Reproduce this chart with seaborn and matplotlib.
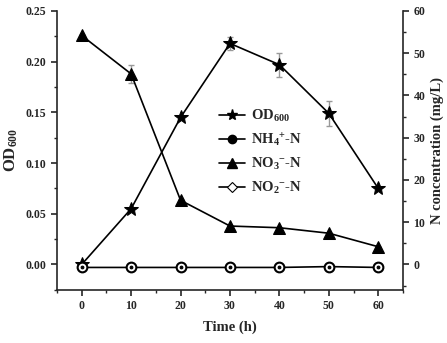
import numpy as np
import matplotlib
matplotlib.use('Agg')
import matplotlib.pyplot as plt
from matplotlib.lines import Line2D
from matplotlib.ticker import MultipleLocator
import seaborn as sns

#data
time = [0, 10, 20, 30, 40, 50, 60]
od600 = [0.0, 0.055, 0.145, 0.218, 0.197, 0.149, 0.075]
od600_err = [0, 0, 0, 0.006, 0.012, 0.012, 0]
nh4 = [-0.7, -0.7, -0.7, -0.7, -0.7, -0.5, -0.7]
no3 = [54.2, 45.1, 15.2, 9.1, 8.7, 7.4, 4.2]
no3_err = [0, 2.2, 0, 0, 0, 0, 0]
no2 = [-0.7, -0.7, -0.7, -0.7, -0.7, -0.5, -0.7]

#style
sns.set_style('ticks')
plt.rcParams['font.family'] = ['Liberation Serif', 'DejaVu Serif']
plt.rcParams['font.weight'] = 'bold'
plt.rcParams['mathtext.fontset'] = 'custom'
plt.rcParams['mathtext.rm'] = 'Liberation Serif:bold'
plt.rcParams['mathtext.default'] = 'rm'

fig = plt.figure(figsize=(4.47, 3.43), dpi=100)
ax = fig.add_axes([0.1275, 0.155, 0.774, 0.813])
ax2 = ax.twinx()

#left axis: OD600
ax.errorbar(time, od600, yerr=od600_err, fmt='none', ecolor='#999999',
            elinewidth=1, capsize=2.5, capthick=1, zorder=1)
sns.lineplot(x=time, y=od600, ax=ax, color='black', marker='*',
             markersize=10, markeredgecolor='black', linewidth=1.2, zorder=3)

#right axis: nitrogen
ax2.errorbar(time, no3, yerr=no3_err, fmt='none', ecolor='#999999',
             elinewidth=1, capsize=2.5, capthick=1, zorder=1)
sns.lineplot(x=time, y=no3, ax=ax2, color='black', marker='^',
             markersize=9, markeredgecolor='black', linewidth=1.2, zorder=3)
sns.lineplot(x=time, y=nh4, ax=ax2, color='black', marker='o',
             markersize=7, markerfacecolor='white', markeredgecolor='black',
             markeredgewidth=1.5, linewidth=1.2, zorder=3)
sns.lineplot(x=time, y=no2, ax=ax2, color='black', marker='o',
             markersize=2, markerfacecolor='black', markeredgecolor='black',
             linewidth=0, zorder=4)

#axes limits and ticks
ax.set_xlim(-5, 65)
ax.set_ylim(-0.025, 0.25)
ax2.set_ylim(-6, 60)
ax.set_xticks(time)
ax.xaxis.set_minor_locator(MultipleLocator(5))
ax.yaxis.set_major_locator(MultipleLocator(0.05))
ax.yaxis.set_minor_locator(MultipleLocator(0.025))
ax.yaxis.set_major_formatter(matplotlib.ticker.FormatStrFormatter('%.2f'))
ax2.yaxis.set_major_locator(MultipleLocator(10))
ax2.yaxis.set_minor_locator(MultipleLocator(5))

for a in (ax, ax2):
    a.spines['top'].set_visible(False)
    for s in a.spines.values():
        s.set_linewidth(1.2)
    a.tick_params(which='major', length=4, width=1.2, labelsize=8.5, direction='out')
    a.tick_params(which='minor', length=2.5, width=1, direction='out')
ax2.spines['left'].set_visible(False)
ax.spines['right'].set_visible(False)
ax2.spines['right'].set_visible(True)
ax2.spines['bottom'].set_visible(False)

ax.set_xlabel('Time (h)', fontsize=10.5, fontweight='bold', labelpad=6)
ax.set_ylabel('OD$_{600}$', fontsize=12, fontweight='bold', labelpad=4)
ax2.set_ylabel('N concentration (mg/L)', fontsize=10.5, fontweight='bold', labelpad=4)

#legend
handles = [
    Line2D([], [], color='black', marker='*', markersize=8, linewidth=1.2),
    Line2D([], [], color='black', marker='o', markersize=6, linewidth=1.2),
    Line2D([], [], color='black', marker='^', markersize=7, linewidth=1.2),
    Line2D([], [], color='black', marker='D', markersize=5, markerfacecolor='white',
           markeredgewidth=0.8, linewidth=1.2),
]
labels = ['OD$_{600}$', 'NH$_4$$^{+}$-N', 'NO$_3$$^{-}$-N', 'NO$_2$$^{-}$-N']
ax.legend(handles, labels, loc='upper left', bbox_to_anchor=(0.45, 0.672),
          frameon=False, fontsize=10.5, handlelength=1.8, handletextpad=0.4,
          labelspacing=0.5, borderaxespad=0)

fig.savefig('out.png', dpi=100)
